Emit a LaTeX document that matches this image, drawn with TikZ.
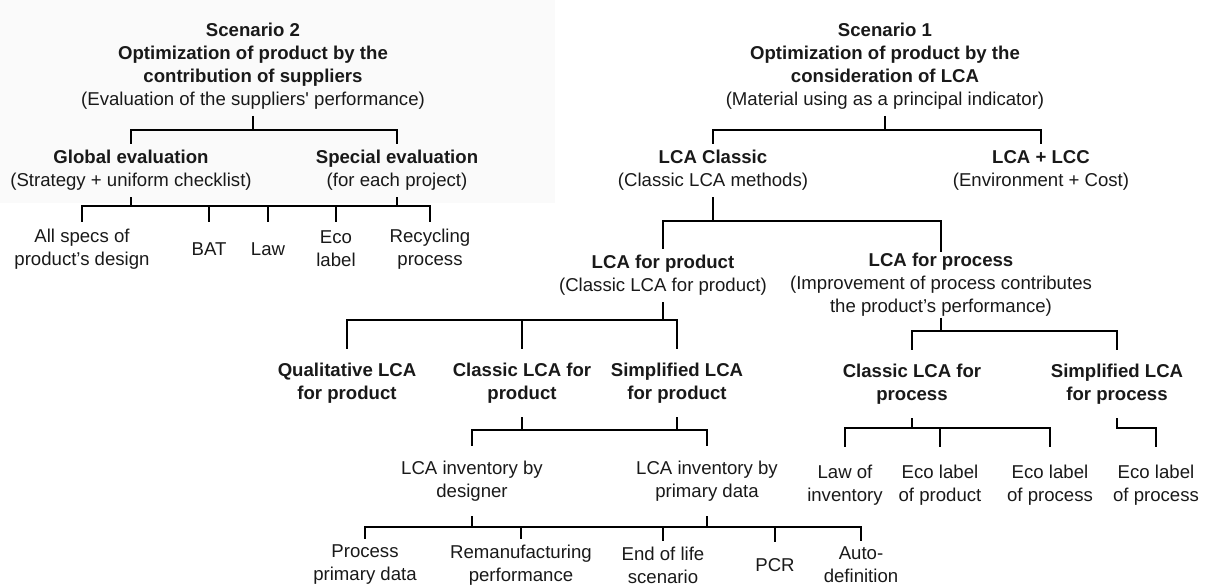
\documentclass[tikz,border=0pt]{standalone}
\usepackage{fontspec}
\setmainfont{Liberation Sans}

\tikzset{
  head/.style={align=center, font=\fontsize{9.3}{11.5}\selectfont\bfseries, text=black!90, inner xsep=1pt, inner ysep=2.5pt},
  leaf/.style={align=center, font=\fontsize{9.3}{11.5}\selectfont, text=black!90, inner xsep=1pt, inner ysep=2.5pt, minimum height=#1},
  leaf/.default=25pt
}

\begin{document}
\begin{tikzpicture}[x=0.5pt, y=-0.5pt, line width=1.15pt]
  \useasboundingbox (0,0) rectangle (1207,588);
  \fill[black!2] (0,0) rectangle (555,203);

  % scenario 2
  \node[head] (s2) at (253,66.5) {Scenario 2\\Optimization of product by the\\contribution of suppliers\\\textmd{(Evaluation of the suppliers\textquotesingle\ performance)}};
  \node[head, minimum height=25.5pt] (glob) at (131,170.5) {Global evaluation\\\textmd{(Strategy + uniform checklist)}};
  \node[head, minimum height=25.5pt] (spec) at (397,170.5) {Special evaluation\\\textmd{(for each project)}};
  \node[leaf=26pt] (allspecs) at (82,249) {All specs of\\product’s design};
  \node[leaf=26pt] (bat) at (209,249) {BAT};
  \node[leaf=26pt] (law) at (268,249) {Law};
  \node[leaf=26pt] (ecolab) at (336,249) {Eco\\label};
  \node[leaf=26pt] (recyc) at (430,249) {Recycling\\process};

  \coordinate (j-s2) at (253,130);
  \coordinate (j-glob) at (131,206);
  \coordinate (j-spec) at (397,206);
  \draw (s2.south) -- (j-s2) -| (glob.north);
  \draw (j-s2) -| (spec.north);
  \draw (glob.south) -- (j-glob) -| (allspecs.north);
  \draw (j-glob) -| (bat.north);
  \draw (j-glob) -| (law.north);
  \draw (spec.south) -- (j-spec) -| (ecolab.north);
  \draw (j-spec) -| (recyc.north);
  \draw (j-glob) -- (j-spec);

  % scenario 1
  \node[head] (s1) at (885,66.5) {Scenario 1\\Optimization of product by the\\consideration of LCA\\\textmd{(Material using as a principal indicator)}};
  \node[head, minimum height=25.5pt] (lcacl) at (713,170.5) {LCA Classic\\\textmd{(Classic LCA methods)}};
  \node[head, minimum height=25.5pt] (lcalcc) at (1041,170.5) {LCA + LCC\\\textmd{(Environment + Cost)}};
  \node[head, minimum height=25.5pt] (forprod) at (663,275.5) {LCA for product\\\textmd{(Classic LCA for product)}};
  \node[head, inner ysep=0pt] (forproc) at (941,285) {LCA for process\\\textmd{(Improvement of process contributes}\\\textmd{the product’s performance)}};
  \node[head, minimum height=33pt] (qualprod) at (347,383) {Qualitative LCA\\for product};
  \node[head, minimum height=33pt] (clprod) at (522,383) {Classic LCA for\\product};
  \node[head, minimum height=33pt] (simprod) at (677,383) {Simplified LCA\\for product};
  \node[head, minimum height=33pt] (clproc) at (912,384) {Classic LCA for\\process};
  \node[head, minimum height=33pt] (simproc) at (1117,384) {Simplified LCA\\for process};

  \node[leaf=34pt] (invdes) at (472,481) {LCA inventory by\\designer};
  \node[leaf=34pt] (invprim) at (707,481) {LCA inventory by\\primary data};
  \node[leaf=37pt] (lawinv) at (845,485.5) {Law of\\inventory};
  \node[leaf=37pt] (ecoprod) at (940,485.5) {Eco label\\of product};
  \node[leaf=37pt] (ecoproc) at (1050,485.5) {Eco label\\of process};
  \node[leaf=37pt] (ecoproc2) at (1156,485.5) {Eco label\\of process};

  \node[leaf=22pt] (procdata) at (365,565) {Process\\primary data};
  \node[leaf=22pt] (reman) at (521,565) {Remanufacturing\\performance};
  \node[leaf=22pt] (eol) at (663,565) {End of life\\scenario};
  \node[leaf=22pt] (pcr) at (775,565) {PCR};
  \node[leaf=22pt] (autodef) at (861,565) {Auto-\\definition};

  \coordinate (j-s1) at (885,130);
  \coordinate (j-lcacl) at (713,221);
  \coordinate (j-forprod) at (663,320);
  \coordinate (j-forproc) at (941,331);
  \coordinate (j-clprod) at (522,430);
  \coordinate (j-simprod) at (677,430);
  \coordinate (j-clproc) at (912,428);
  \coordinate (j-simproc) at (1117,428);
  \coordinate (j-invdes) at (472,527);
  \coordinate (j-invprim) at (707,527);

  \draw (s1.south) -- (j-s1) -| (lcacl.north);
  \draw (j-s1) -| (lcalcc.north);
  \draw (lcacl.south) -- (j-lcacl) -| (forprod.north);
  \draw (j-lcacl) -| (forproc.north);
  \draw (forprod.south) -- (j-forprod) -| (qualprod.north);
  \draw (j-forprod) -| (clprod.north);
  \draw (j-forprod) -| (simprod.north);
  \draw (forproc.south) -- (j-forproc) -| (clproc.north);
  \draw (j-forproc) -| (simproc.north);
  \draw (clprod.south) -- (j-clprod) -| (invdes.north);
  \draw (simprod.south) -- (j-simprod) -| (invprim.north);
  \draw (j-clprod) -- (j-simprod);
  \draw (clproc.south) -- (j-clproc) -| (lawinv.north);
  \draw (j-clproc) -| (ecoprod.north);
  \draw (j-clproc) -| (ecoproc.north);
  \draw (simproc.south) -- (j-simproc) -| (ecoproc2.north);
  \draw (invdes.south) -- (j-invdes) -| (procdata.north);
  \draw (j-invdes) -| (reman.north);
  \draw (j-invdes) -| (eol.north);
  \draw (invprim.south) -- (j-invprim) -| (pcr.north);
  \draw (j-invprim) -| (autodef.north);
  \draw (j-invdes) -- (j-invprim);
\end{tikzpicture}
\end{document}
